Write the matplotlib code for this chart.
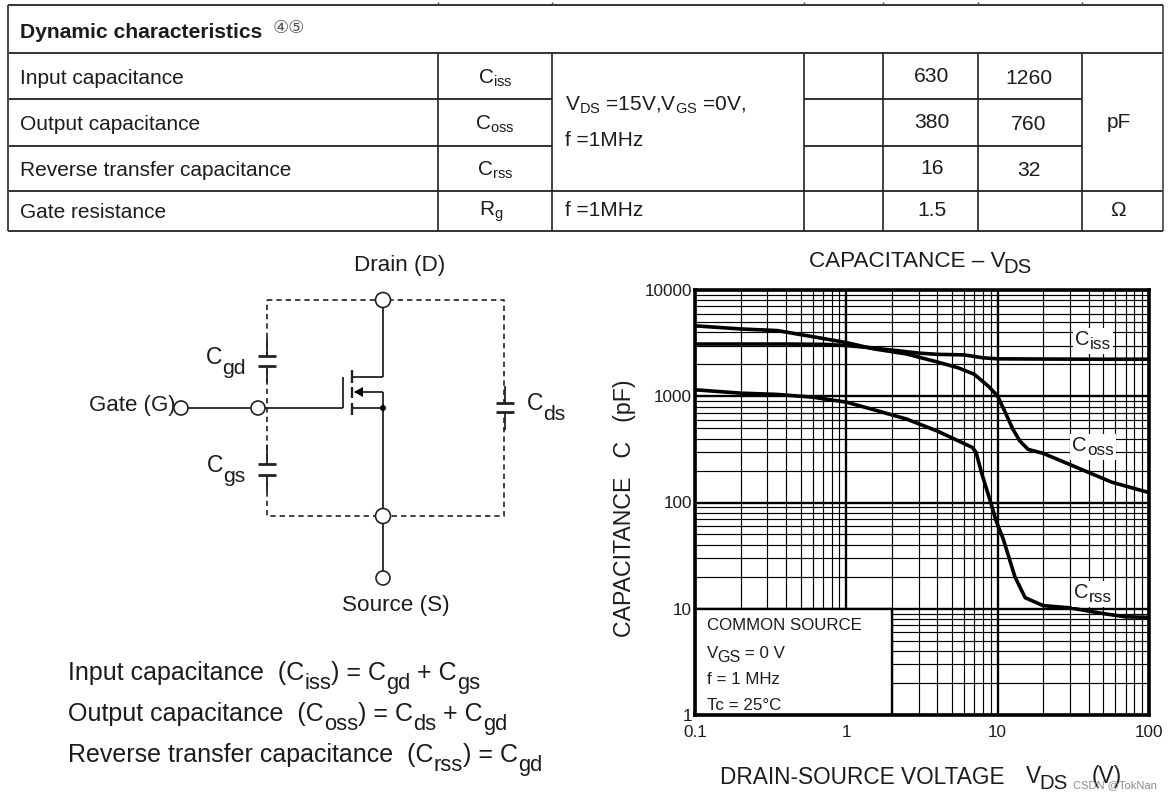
import re
import matplotlib
matplotlib.use("Agg")
import matplotlib.pyplot as plt
from matplotlib.patches import Circle, Polygon, Rectangle

plt.rcParams['font.family'] = ['Liberation Sans', 'DejaVu Sans']
plt.rcParams['mathtext.fontset'] = 'custom'
plt.rcParams['mathtext.rm'] = 'Liberation Sans'
plt.rcParams['mathtext.default'] = 'regular'

# ---- chart data -----
ciss_v = [0.1, 0.2, 0.4, 0.7, 1, 1.5, 2, 3, 4, 6, 8, 10, 20, 50, 100]
ciss_c = [3100, 3100, 3100, 3080, 3000, 2850, 2720, 2550, 2480, 2450, 2300, 2250, 2240, 2230, 2230]
coss_v = [0.1, 0.2, 0.35, 0.5, 0.7, 1, 1.5, 2.5, 4, 5.5, 7, 8.7, 10, 11, 12.6, 14, 15.9, 20, 33, 57, 100]
coss_c = [4600, 4300, 4150, 3800, 3500, 3200, 2800, 2500, 2100, 1850, 1610, 1240, 1000, 750, 490, 380, 316, 290, 215, 155, 124]
crss_v = [0.1, 0.2, 0.35, 0.6, 1, 1.5, 2.5, 4, 6.8, 7.2, 7.8, 9, 9.7, 10.9, 13, 15.2, 20, 30, 50, 70, 100]
crss_c = [1150, 1070, 1040, 980, 880, 750, 610, 470, 330, 296, 193, 100, 69, 45, 20, 12.7, 10.7, 10.2, 9, 8.4, 8.3]
x_ticks = [0.1, 1, 10, 100]
x_tick_labels = ['0.1', '1', '10', '100']
y_ticks = [1, 10, 100, 1000, 10000]
y_tick_labels = ['1', '10', '100', '1000', '10000']

# ---- table data -----
row_names = ['Input capacitance', 'Output capacitance', 'Reverse transfer capacitance', 'Gate resistance']
row_syms = ['C$_{iss}$', 'C$_{oss}$', 'C$_{rss}$', 'R$_{g}$']
typ_vals = ['630', '380', '16', '1.5']
max_vals = ['1260', '760', '32', '']

W, H = 1170, 799
fig = plt.figure(figsize=(W / 100, H / 100), dpi=100, facecolor='white')
TXT = '#1c1c1c'

# log chart
ax = fig.add_axes([695 / W, 1 - 715 / H, (1149 - 695) / W, (715 - 290) / H], zorder=1)
ax.set_xscale('log')
ax.set_yscale('log')
ax.set_xlim(0.1, 100)
ax.set_ylim(1, 10000)
ax.set_xticks(x_ticks, x_tick_labels)
ax.set_yticks(y_ticks, y_tick_labels)
ax.tick_params(which='both', length=0)
ax.tick_params(axis='both', labelsize=12.3, labelcolor=TXT)
ax.tick_params(axis='x', pad=7)
ax.tick_params(axis='y', pad=2)
ax.grid(which='major', color='black', lw=1.7)
ax.grid(which='minor', color='black', lw=0.85)
ax.set_axisbelow(True)
for s in ax.spines.values():
    s.set_linewidth(2.6)
    s.set_zorder(6)
ax.add_patch(Rectangle((0.1, 1), 1.9, 9, fc='white', ec='black', lw=1.7, zorder=3))
for xs, ys in ((ciss_v, ciss_c), (coss_v, coss_c), (crss_v, crss_c)):
    ax.plot(xs, ys, color='black', lw=2.6, zorder=4, solid_joinstyle='round')

# pixel overlay
ov = fig.add_axes([0, 0, 1, 1], zorder=2, facecolor='none')
ov.set_xlim(0, W)
ov.set_ylim(H, 0)
ov.axis('off')
rend = fig.canvas.get_renderer()

def line(x, y, lw=1.2, c='#222222', **k):
    ov.plot(x, y, color=c, lw=lw, solid_capstyle='butt', **k)

def T(x, y, s, size=14, ha='left', va='center', **k):
    k.setdefault('color', TXT)
    return ov.text(x, y, s, fontsize=size, ha=ha, va=va, **k)

def adv(s, size):
    a = ov.text(0, 0, s + '.', fontsize=size)
    b = ov.text(0, 0, '.', fontsize=size)
    w = a.get_window_extent(rend).width - b.get_window_extent(rend).width
    a.remove()
    b.remove()
    return w

def rich(x, y, s, size, ratio=0.88, drop=0.36, ha='left', bbox=None):
    """Draw text with _{...} subscripts larger than mathtext's, from a baseline y."""
    parts = re.split(r'_\{(.*?)\}', s)
    sizes = [size if i % 2 == 0 else size * ratio for i in range(len(parts))]
    widths = [adv(p, z) if p else 0 for p, z in zip(parts, sizes)]
    total = sum(widths)
    if ha == 'center':
        x -= total / 2
    if bbox:
        em = size * 100 / 72
        ov.add_patch(Rectangle((x - 2, y - em * 0.85), total + 4, em * 1.3, fc='white', ec='none', zorder=3))
    for i, (p, z, w) in enumerate(zip(parts, sizes, widths)):
        if p:
            yy = y if i % 2 == 0 else y + drop * size * 100 / 72
            ov.text(x, yy, p, fontsize=z, ha='left', va='baseline', color=TXT, zorder=4)
        x += w

# table rules
for y in (5, 53, 191, 231):
    line([8, 1163], [y, y], 1.4, '#333333')
for y in (99, 146):
    line([8, 552], [y, y], 1.3, '#222222')
    line([804, 1082], [y, y], 1.3, '#222222')
line([8, 8], [5, 231], 1.4, '#444444')
line([1163, 1163], [5, 231], 1.2, '#444444')
for x in (438, 552, 804, 883, 978, 1082):
    line([x, x], [53, 231], 1.2, '#222222')
    line([x, x], [2, 5], 1.0, '#444444')

T(20, 32, 'Dynamic characteristics', 15.2, weight='bold')
T(273, 28, '④⑤', 13, color='#555555', family=['DejaVu Sans'])
row_y = [78, 124, 170, 212]
sym_x = [495, 495, 495, 491]
for y, n, s, t, m, sx in zip(row_y, row_names, row_syms, typ_vals, max_vals, sym_x):
    T(20, y, n, 15)
    T(sx, y, s, 15, ha='center')
    T(932, y - 1, t, 15.2, ha='center')
    T(1029, y, m, 15.2, ha='center')
T(565, 105, 'V$_{DS}$ =15V,V$_{GS}$ =0V,', 15)
T(565, 141, 'f =1MHz', 15)
T(565, 210, 'f =1MHz', 15)
T(1119, 123, 'pF', 15, ha='center')
T(1118, 210, 'Ω', 15, ha='center')

# circuit
D = dict(color='#222222', lw=1.2, ls=(0, (3.2, 2.4)))
ov.plot([267, 504, 504, 267, 267], [300, 300, 516, 516, 300], **D)
wire = [
    ([181, 343], [408, 408]), ([343, 343], [377, 408]),
    ([383, 383], [300, 377]), ([352, 383], [377, 377]),
    ([355, 383], [392, 392]), ([383, 383], [392, 578]),
    ([352, 383], [408, 408]),
]
for x, y in wire:
    line(x, y, 1.3)
for y0, y1 in ((370, 383), (387, 398), (403, 415)):
    line([352, 352], [y0, y1], 1.7)
ov.add_patch(Polygon([[354, 392], [363, 387], [363, 397]], fc='black', ec='none', zorder=4))
ov.add_patch(Circle((383, 408), 3, fc='black', ec='none', zorder=4))
for cx, cy, r in ((383, 300, 7.5), (383, 516, 7.5), (383, 578, 7), (181, 408, 7), (258, 408, 7)):
    ov.add_patch(Circle((cx, cy), r, fc='white', ec='#222222', lw=1.2, zorder=5))
for cx, y0, y1, w0, w1 in ((267, 356, 366, 338, 383), (267, 464, 475, 445, 492), (505, 403, 412, 386, 430)):
    ov.add_patch(Rectangle((cx - 3, y0 + 0.5), 6, y1 - y0 - 1, fc='white', ec='none', zorder=3))
    line([cx - 9, cx + 9], [y0, y0], 2.0, zorder=4)
    line([cx - 9, cx + 9], [y1, y1], 2.0, zorder=4)
    line([cx, cx], [w0, y0], 1.3)
    line([cx, cx], [y1, w1], 1.3)

T(400, 266, 'Drain (D)', 16.2, ha='center')
T(396, 606, 'Source (S)', 16.2, ha='center')
T(89, 405, 'Gate (G)', 16)
rich(206, 364, 'C_{gd}', 16.5, ratio=0.92, drop=0.42)
rich(207, 472, 'C_{gs}', 16.5, ratio=0.92, drop=0.42)
rich(527, 410, 'C_{ds}', 16.5, ratio=0.92, drop=0.42)

rich(68, 680, 'Input capacitance  (C_{iss}) = C_{gd} + C_{gs}', 18)
rich(68, 721, 'Output capacitance  (C_{oss}) = C_{ds} + C_{gd}', 18)
rich(68, 762, 'Reverse transfer capacitance  (C_{rss}) = C_{gd}', 18)

# chart text
rich(920, 267, 'CAPACITANCE – V_{DS}', 16.2, ratio=0.9, drop=0.25, ha='center')
T(624, 508, 'CAPACITANCE   C   (pF)', 16.7, ha='center', rotation=90)
T(720, 777, 'DRAIN-SOURCE VOLTAGE', 16.3)
rich(1026, 783, 'V_{DS}', 16.3, ratio=0.9, drop=0.25)
T(1092, 777, '(V)', 16.3)
rich(1093, 345, 'C_{iss}', 14.5, ratio=0.85, drop=0.22, ha='center', bbox=True)
rich(1093, 451, 'C_{oss}', 14.5, ratio=0.85, drop=0.22, ha='center', bbox=True)
rich(1093, 598, 'C_{rss}', 14.5, ratio=0.85, drop=0.22, ha='center', bbox=True)
T(707, 625, 'COMMON SOURCE', 12.2)
rich(707, 658, 'V_{GS} = 0 V', 12.2, ratio=0.95, drop=0.22)
T(707, 679, 'f = 1 MHz', 12.2)
T(707, 705, 'Tc = 25°C', 12.2)
T(1073, 785, 'CSDN @TokNan', 8, color='#8a8a8a')

fig.savefig('out.png', dpi=100)
